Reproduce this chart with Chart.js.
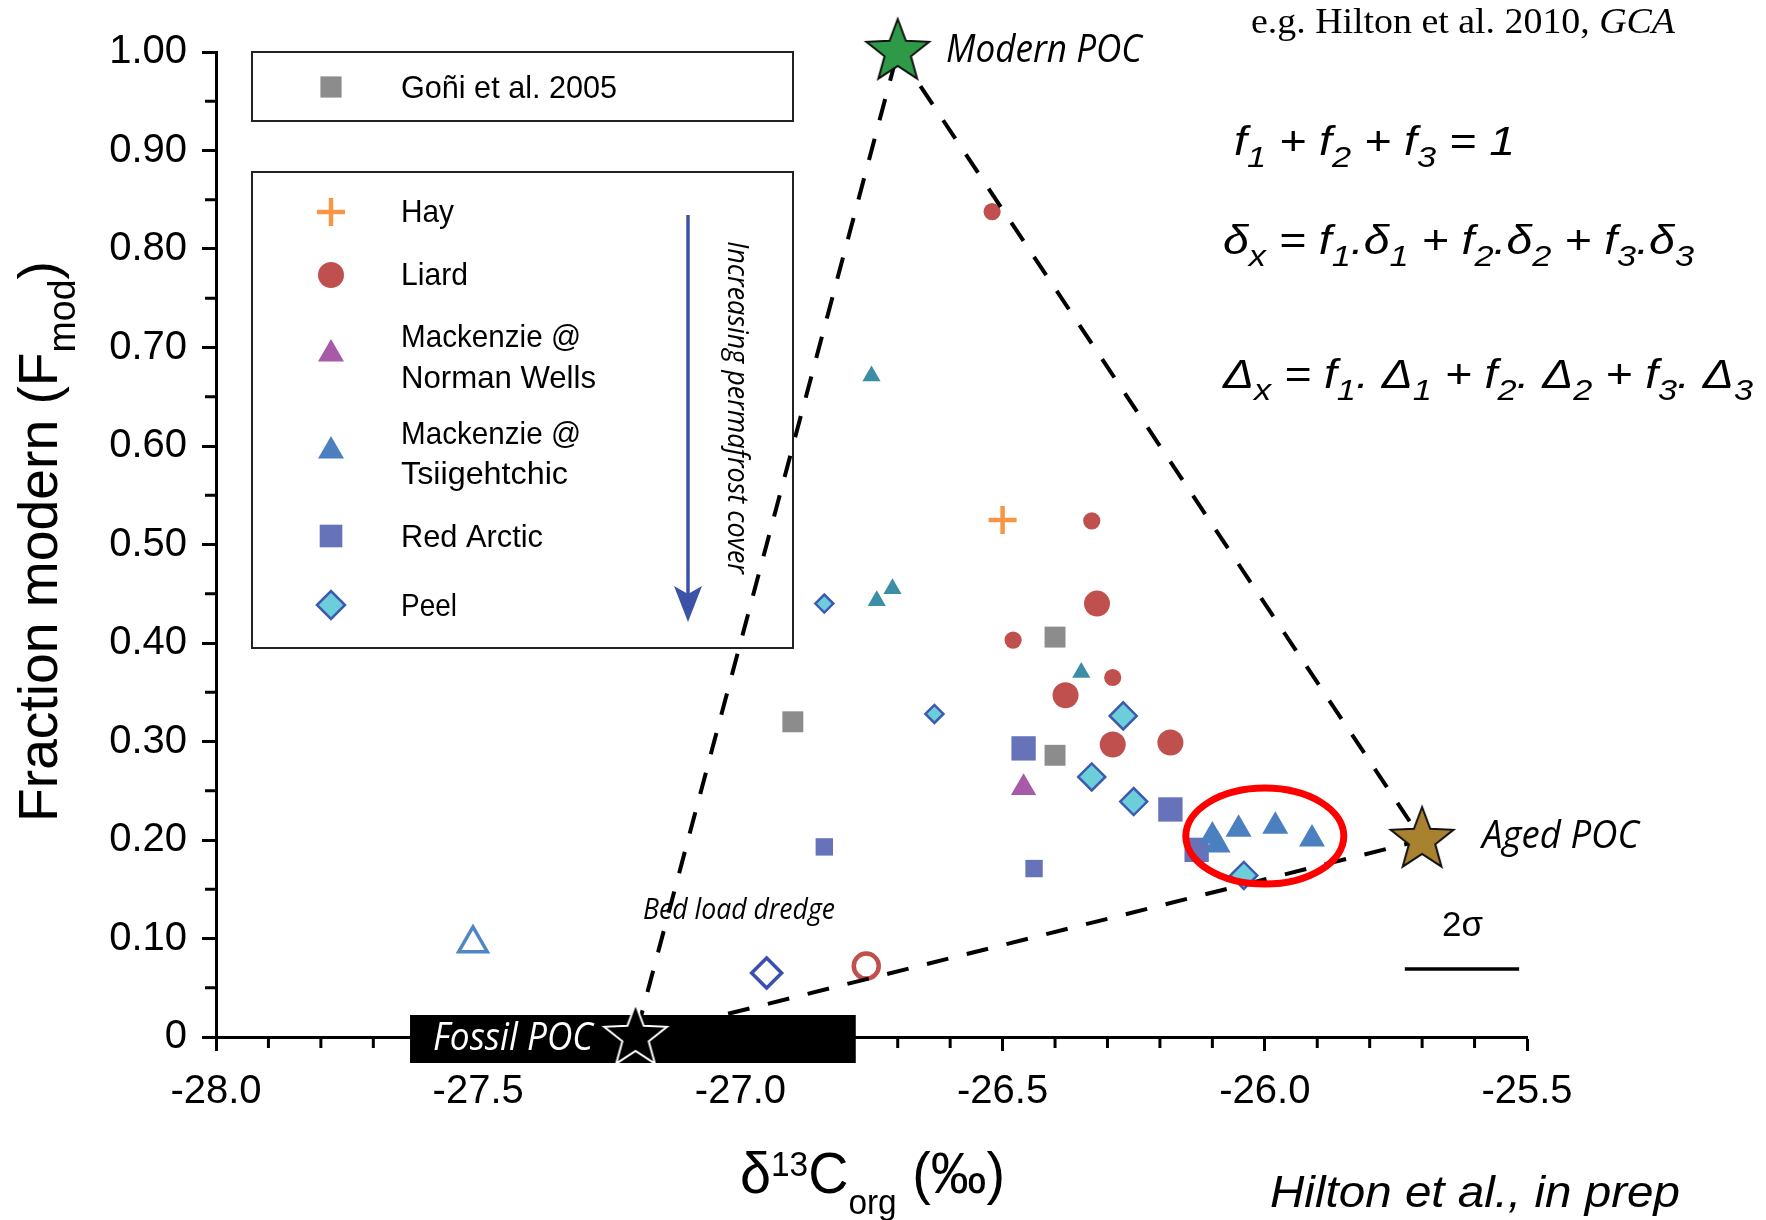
<!DOCTYPE html>
<html lang="en">
<head>
<meta charset="UTF-8">
<title>Fraction modern vs d13C org</title>
<script src="https://cdn.jsdelivr.net/npm/chart.js"></script>
<style>
  html, body { margin: 0; padding: 0; background: #fff; }
  #wrap { position: relative; width: 1766px; height: 1220px; }
</style>
</head>
<body>
<div id="wrap"><canvas id="mix"></canvas></div>
<script>
// values: [d13C org, fraction modern]
// end members: Modern POC, Aged POC, Fossil POC
const endMembers = [[-26.70, 1.00], [-25.70, 0.20], [-27.20, 0.00]];
const goni = [[-26.90, 0.320], [-26.40, 0.406], [-26.40, 0.286]];
const hay = [[-26.50, 0.525]];
const liardSmall = [[-26.52, 0.838], [-26.33, 0.524], [-26.48, 0.403], [-26.29, 0.365]];
const liardLarge = [[-26.32, 0.440], [-26.38, 0.347], [-26.29, 0.297], [-26.18, 0.299]];
const normanWells = [[-26.46, 0.253]];
const tsiiSmall = [[-26.75, 0.671], [-26.74, 0.443], [-26.71, 0.455], [-26.35, 0.370]];
const tsiiLarge = [[-26.10, 0.204], [-26.09, 0.195], [-26.05, 0.211], [-25.98, 0.214], [-25.91, 0.201]];
const redArcticSmall = [[-26.84, 0.193], [-26.44, 0.171]];
const redArcticLarge = [[-26.46, 0.293], [-26.18, 0.231], [-26.13, 0.190]];
const peelSmall = [[-26.84, 0.440], [-26.63, 0.328]];
const peelLarge = [[-26.27, 0.326], [-26.33, 0.264], [-26.25, 0.239], [-26.04, 0.164]];
// bed load dredge samples (open symbols)
const bedTsii = [[-27.51, 0.095]];
const bedPeel = [[-26.95, 0.065]];
const bedLiard = [[-26.76, 0.072]];

const xRange = [-28, -25.5];
const yRange = [0, 1];
const fossilRange = [-27.63, -26.78];      // black bar behind Fossil POC
const circled = [-26.00, 0.204];           // centre of the red ring
const twoSigma = [-25.733, -25.515, 0.069]; // from, to, at

const sans = '"Liberation Sans", Arial, sans-serif';
const myriad = '"Open Sans", "Noto Sans", sans-serif';
const serif = '"Liberation Serif", "DejaVu Serif", serif';

const pts = a => a.map(([x, y]) => ({ x, y }));

function starImage(r, fill, stroke, lw) {
  const c = document.createElement('canvas');
  const s = Math.ceil(2 * r + 2 * lw + 4);
  c.width = c.height = s;
  const g = c.getContext('2d');
  g.translate(s / 2, s / 2);
  g.beginPath();
  for (let i = 0; i < 10; i++) {
    const rr = i % 2 ? r * 0.42 : r;
    const a = -Math.PI / 2 + i * Math.PI / 5;
    g.lineTo(rr * Math.cos(a), rr * Math.sin(a));
  }
  g.closePath();
  g.fillStyle = fill;
  g.fill();
  g.lineWidth = lw;
  g.strokeStyle = stroke;
  g.stroke();
  return c;
}

// tiny rich text: _x / _{..} subscript, ^{..} superscript, *..* italic toggle
function parseRich(s) {
  const out = [];
  let buf = '', it = false;
  const flush = () => { if (buf) { out.push({ t: buf, k: 0, it }); buf = ''; } };
  for (let i = 0; i < s.length; i++) {
    const c = s[i];
    if (c === '*') { flush(); it = !it; continue; }
    if ((c === '_' || c === '^') && i + 1 < s.length) {
      flush();
      let t;
      if (s[i + 1] === '{') { const j = s.indexOf('}', i); t = s.slice(i + 2, j); i = j; }
      else { t = s[i + 1]; i++; }
      out.push({ t, k: c === '_' ? 1 : -1, it });
      continue;
    }
    buf += c;
  }
  flush();
  return out;
}

function richText(ctx, s, x, y, o) {
  const parts = parseRich(s);
  const sub = o.sub || 0.65, sup = o.sup || sub;
  const size = p => p.k === 1 ? o.size * sub : p.k === -1 ? o.size * sup : o.size;
  const font = p => `${(p.it !== !!o.italic) ? 'italic ' : ''}${size(p)}px ${o.family}`;
  let total = 0;
  parts.forEach(p => { ctx.font = font(p); p.w = ctx.measureText(p.t).width; total += p.w; });
  const sx = o.width ? o.width / total : 1;
  ctx.save();
  ctx.translate(x, y);
  if (o.angle) ctx.rotate(o.angle);
  ctx.scale(sx, 1);
  ctx.fillStyle = o.color || '#000';
  ctx.textAlign = 'left';
  ctx.textBaseline = 'alphabetic';
  let cx = 0;
  parts.forEach(p => {
    ctx.font = font(p);
    const dy = p.k === 1 ? o.size * (o.subDy || 0.3) : p.k === -1 ? -o.size * (o.supDy || 0.35) : 0;
    ctx.fillText(p.t, cx, dy);
    cx += p.w;
  });
  ctx.restore();
}

const legendItems = [
  { lines: ['Hay'], y: 212, widths: [53], pt: { pointStyle: 'cross', radius: 14, borderWidth: 4.5 }, fill: '#f79646', stroke: '#f79646', base: [222] },
  { lines: ['Liard'], y: 275, widths: [67], pt: { pointStyle: 'circle', radius: 13, borderWidth: 0 }, fill: '#c0504d', base: [285] },
  { lines: ['Mackenzie @', 'Norman Wells'], y: 354, widths: [180, 195], pt: { pointStyle: 'triangle', radius: 15, borderWidth: 0 }, fill: '#a65aa8', base: [347, 388] },
  { lines: ['Mackenzie @', 'Tsiigehtchic'], y: 451, widths: [180, 167], pt: { pointStyle: 'triangle', radius: 15, borderWidth: 0 }, fill: '#4a7fc0', base: [444, 484] },
  { lines: ['Red Arctic'], y: 536, widths: [142], pt: { pointStyle: 'rect', radius: 16, borderWidth: 0 }, fill: '#6673b8', base: [547] },
  { lines: ['Peel'], y: 605, widths: [56], pt: { pointStyle: 'rectRot', radius: 14, borderWidth: 2.5 }, fill: '#6dcedb', stroke: '#3d5ab0', base: [616] }
];

const extras = {
  id: 'extras',
  beforeDatasetsDraw(chart) {
    const { ctx, scales: { x, y } } = chart;
    ctx.save();
    ctx.strokeStyle = '#000';
    ctx.lineWidth = 3;
    ctx.beginPath();
    for (let i = 1; i < 25; i++) {
      if (i % 5 === 0) continue;
      const px = x.getPixelForValue(xRange[0] + i * 0.1);
      ctx.moveTo(px, y.bottom);
      ctx.lineTo(px, y.bottom + 11);
    }
    for (let i = 0; i < 10; i++) {
      const py = y.getPixelForValue(0.05 + i * 0.1);
      ctx.moveTo(x.left, py);
      ctx.lineTo(x.left - 11, py);
    }
    ctx.stroke();
    // fossil POC range bar
    const x0 = x.getPixelForValue(fossilRange[0]);
    const x1 = x.getPixelForValue(fossilRange[1]);
    const y0 = y.getPixelForValue(0);
    ctx.fillStyle = '#000';
    ctx.fillRect(x0, y0 - 22, x1 - x0, 48);
    ctx.restore();
  },
  afterDatasetsDraw(chart) {
    const { ctx, scales: { x, y } } = chart;
    ctx.save();
    // red ring round the Tsiigehtchic cluster
    ctx.strokeStyle = '#ff0000';
    ctx.lineWidth = 7;
    ctx.beginPath();
    ctx.ellipse(x.getPixelForValue(circled[0]), y.getPixelForValue(circled[1]), 79, 48, 0, 0, Math.PI * 2);
    ctx.stroke();
    // 2 sigma bar
    ctx.strokeStyle = '#000';
    ctx.lineWidth = 3.5;
    ctx.beginPath();
    const sy = y.getPixelForValue(twoSigma[2]);
    ctx.moveTo(x.getPixelForValue(twoSigma[0]), sy);
    ctx.lineTo(x.getPixelForValue(twoSigma[1]), sy);
    ctx.stroke();
    richText(ctx, '2σ', 1442, sy - 33, { size: 35, family: sans, width: 41 });

    // end member labels
    richText(ctx, 'Modern POC', 946, 62, { size: 39, family: myriad, italic: true, width: 196 });
    richText(ctx, 'Aged POC', 1482, 848, { size: 38, family: myriad, italic: true, width: 157 });
    richText(ctx, 'Fossil POC', 433, 1050, { size: 38, family: myriad, italic: true, width: 160, color: '#fff' });
    richText(ctx, 'Bed load dredge', 643, 919, { size: 29, family: myriad, italic: true, width: 192 });

    // legend boxes
    ctx.strokeStyle = '#222';
    ctx.lineWidth = 2;
    ctx.strokeRect(252, 52, 541, 69);
    ctx.strokeRect(252, 172, 541, 476);
    ctx.fillStyle = '#8c8c8c';
    Chart.helpers.drawPoint(ctx, { pointStyle: 'rect', radius: 15, borderWidth: 0 }, 331, 87);
    richText(ctx, 'Goñi et al. 2005', 401, 98, { size: 32, family: sans, width: 216 });
    legendItems.forEach(it => {
      ctx.fillStyle = it.fill;
      ctx.strokeStyle = it.stroke || it.fill;
      ctx.lineWidth = it.pt.borderWidth || 1;
      Chart.helpers.drawPoint(ctx, it.pt, 331, it.y);
      it.lines.forEach((t, i) => richText(ctx, t, 401, it.base[i], { size: 32, family: sans, width: it.widths[i] }));
    });
    // permafrost arrow
    ctx.strokeStyle = ctx.fillStyle = '#3b52a6';
    ctx.lineWidth = 3.5;
    ctx.beginPath();
    ctx.moveTo(688, 215);
    ctx.lineTo(688, 596);
    ctx.stroke();
    ctx.beginPath();
    ctx.moveTo(688, 622);
    ctx.lineTo(674, 586);
    ctx.lineTo(688, 594);
    ctx.lineTo(702, 586);
    ctx.closePath();
    ctx.fill();
    richText(ctx, 'Increasing permafrost cover', 728, 241, { size: 29, family: myriad, italic: true, width: 333, angle: Math.PI / 2 });

    // axis titles
    richText(ctx, 'Fraction modern (F_{mod})', 57, 822, { size: 56, family: sans, width: 561, angle: -Math.PI / 2, sub: 0.68, subDy: 0.33 });
    richText(ctx, 'δ^{13}C_{org} (‰)', 740, 1193, { size: 57, family: sans, width: 265, sub: 0.6, subDy: 0.36, supDy: 0.3 });

    // notes and equations
    richText(ctx, 'e.g. Hilton et al. 2010, *GCA*', 1251, 33, { size: 35, family: serif, width: 424 });
    const eq = { size: 41, family: sans, italic: true, sub: 0.74, subDy: 0.3 };
    richText(ctx, 'f_1 + f_2 + f_3 = 1', 1234, 155, Object.assign({ width: 281 }, eq));
    richText(ctx, 'δ_x = f_1.δ_1 + f_2.δ_2 + f_3.δ_3', 1223, 254, Object.assign({ width: 471 }, eq));
    richText(ctx, 'Δ_x = f_1. Δ_1 + f_2. Δ_2 + f_3. Δ_3', 1223, 388, Object.assign({ width: 530 }, eq));
    richText(ctx, 'Hilton et al., in prep', 1270, 1207, { size: 45, family: sans, italic: true, width: 410 });
    ctx.restore();
  }
};

const modernStar = starImage(33, '#2e9a48', '#111', 2);
const agedStar = starImage(33, '#a8822e', '#111', 2);
const fossilStar = starImage(33, '#000', '#fff', 2);

function pointSet(data, style, radius, fill, stroke, bw) {
  return {
    data: pts(data), showLine: false, clip: false,
    pointStyle: style, pointRadius: radius, pointHoverRadius: radius,
    pointBackgroundColor: fill, pointBorderColor: stroke || fill, pointBorderWidth: bw || 0
  };
}

const mixing = [endMembers[0], endMembers[1], endMembers[2], endMembers[0]];

new Chart(document.getElementById('mix'), {
  type: 'scatter',
  data: {
    datasets: [
      {
        data: pts(endMembers), showLine: false, clip: false,
        pointStyle: [modernStar, agedStar, fossilStar], pointRadius: 33
      },
      {
        data: pts(mixing), showLine: true, clip: false, pointRadius: 0,
        borderColor: '#000', borderWidth: 4, borderDash: [22, 19], fill: false, tension: 0
      },
      pointSet(tsiiLarge, 'triangle', 15, '#4a7fc0'),
      pointSet(peelLarge, 'rectRot', 13.5, '#6dcedb', '#3d5ab0', 2.5),
      pointSet(peelSmall, 'rectRot', 9, '#6dcedb', '#3d5ab0', 2.5),
      pointSet(redArcticLarge, 'rect', 17.2, '#6673b8'),
      pointSet(redArcticSmall, 'rect', 12.3, '#6673b8'),
      pointSet(liardLarge, 'circle', 13, '#c0504d'),
      pointSet(liardSmall, 'circle', 8.6, '#c0504d'),
      pointSet(goni, 'rect', 14.8, '#8c8c8c'),
      pointSet(hay, 'cross', 14, '#f79646', '#f79646', 4.5),
      pointSet(normanWells, 'triangle', 14.6, '#a65aa8'),
      pointSet(tsiiSmall, 'triangle', 10.5, '#3b8ea5'),
      pointSet(bedTsii, 'triangle', 16.5, 'rgba(0,0,0,0)', '#4f86c6', 3.5),
      pointSet(bedPeel, 'rectRot', 15, 'rgba(0,0,0,0)', '#3a4fb0', 3.5),
      pointSet(bedLiard, 'circle', 12.5, 'rgba(0,0,0,0)', '#c0504d', 4.5)
    ]
  },
  options: {
    responsive: true,
    maintainAspectRatio: false,
    animation: false,
    devicePixelRatio: 1,
    events: [],
    layout: { autoPadding: false, padding: { left: 0, top: 52, right: 239, bottom: 0 } },
    plugins: { legend: { display: false }, tooltip: { enabled: false } },
    scales: {
      x: {
        type: 'linear', min: xRange[0], max: xRange[1],
        afterFit(s) { s.height = 183; },
        ticks: {
          stepSize: 0.5, autoSkip: false, maxRotation: 0, padding: 17, color: '#000',
          font: { family: sans, size: 40 },
          callback: v => v.toFixed(1)
        },
        grid: { display: true, drawOnChartArea: false, drawTicks: true, tickLength: 14, tickWidth: 3, tickColor: '#000' },
        border: { display: true, color: '#000', width: 3 }
      },
      y: {
        type: 'linear', min: yRange[0], max: yRange[1],
        afterFit(s) { s.width = 216; },
        ticks: {
          stepSize: 0.1, autoSkip: false, padding: 15, color: '#000',
          font: { family: sans, size: 40 },
          callback: v => Math.abs(v) < 1e-9 ? '0' : v.toFixed(2)
        },
        grid: { display: true, drawOnChartArea: false, drawTicks: true, tickLength: 14, tickWidth: 3, tickColor: '#000' },
        border: { display: true, color: '#000', width: 3 }
      }
    }
  },
  plugins: [extras]
});
</script>
</body>
</html>
